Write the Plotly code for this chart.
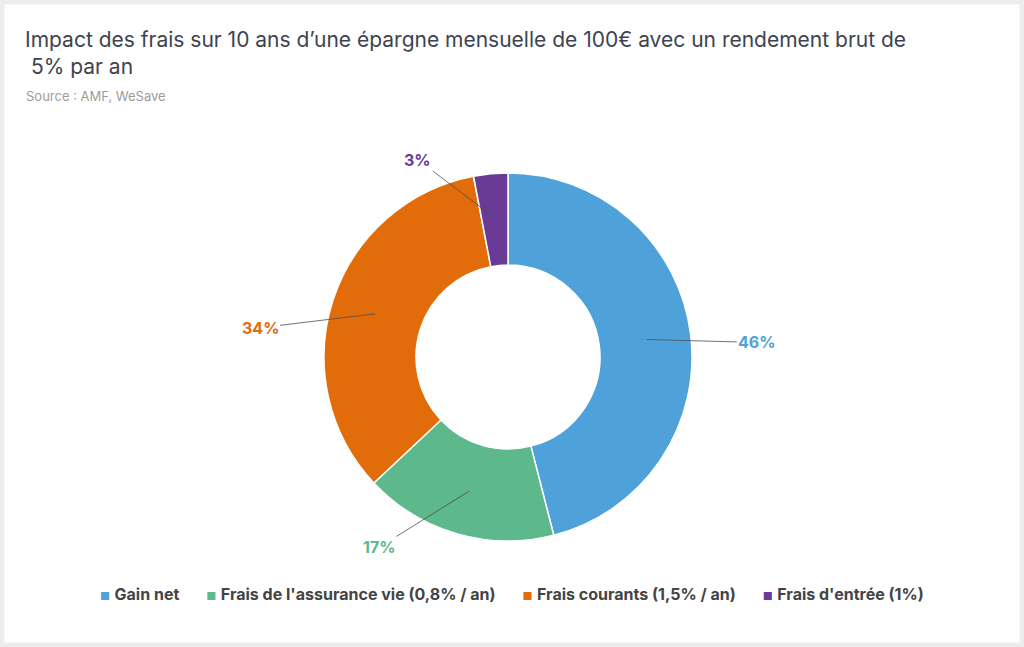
import math
import plotly.graph_objects as go

# data
labels = ["Gain net", "Frais de l'assurance vie (0,8% / an)",
          "Frais courants (1,5% / an)", "Frais d'entrée (1%)"]
values = [46, 17, 34, 3]
colors = ["#4FA1DA", "#5DB88C", "#E36C0A", "#6A3A97"]

# layout (pixels)
W, H = 1024, 647
CX, CY, R = 508, 357, 184
label_offsets = [(110, 3), (-90, 56), (-115, 14), (-77, -58)]

fig = go.Figure(go.Pie(
    labels=labels, values=values, hole=0.5, sort=False,
    direction="clockwise", rotation=0,
    marker=dict(colors=colors, line=dict(color="white", width=1.5)),
    textinfo="none", hoverinfo="label+percent", showlegend=False,
    domain=dict(x=[(CX - R) / W, (CX + R) / W],
                y=[1 - (CY + R) / H, 1 - (CY - R) / H]),
))

# percentage labels with leader lines
total = sum(values)
cum = 0
for v, c, (ax, ay) in zip(values, colors, label_offsets):
    mid = (cum + v / 2) / total * 2 * math.pi
    cum += v
    r = 0.76 * R
    fig.add_annotation(
        x=(CX + r * math.sin(mid)) / W, y=1 - (CY - r * math.cos(mid)) / H,
        xref="paper", yref="paper", text=f"<b>{round(v / total * 100)}%</b>",
        showarrow=True, arrowhead=0, arrowwidth=0.8, arrowcolor="#4d4d4d",
        ax=ax, ay=ay, font=dict(color=c, size=16, family="Inter"))

# title + source
fig.add_annotation(
    x=23 / W, y=1 - 25 / H, xref="paper", yref="paper", xanchor="left", yanchor="top",
    align="left", showarrow=False,
    text="Impact des frais sur 10 ans d’une épargne mensuelle de 100€ avec un rendement brut de<br> 5% par an",
    font=dict(size=21, color="#3d4351", family="Inter"))
fig.add_annotation(
    x=24 / W, y=1 - 86 / H, xref="paper", yref="paper", xanchor="left", yanchor="top",
    showarrow=False, text="Source : AMF, WeSave",
    font=dict(size=13, color="#9b9b9b", family="Inter"))

# legend
sep = "\u00a0" * 6
items = [f"<span style='color:{c};font-size:11px'>■</span>\u00a0<b>{l}</b>"
         for l, c in zip(labels, colors)]
fig.add_annotation(
    x=512 / W, y=1 - 606 / H, xref="paper", yref="paper", showarrow=False,
    text=sep.join(items), font=dict(size=16, color="#444444", family="Inter"))

fig.update_layout(
    width=W, height=H, margin=dict(l=0, r=0, t=0, b=0),
    paper_bgcolor="white", plot_bgcolor="white",
    shapes=[dict(type="rect", xref="paper", yref="paper", x0=0, x1=1, y0=0, y1=1,
                 line=dict(color="#ededed", width=9))],
)

fig.write_html("out.html", config={"displayModeBar": False},
               post_script="document.body.style.margin='0';document.body.style.overflow='hidden';")
